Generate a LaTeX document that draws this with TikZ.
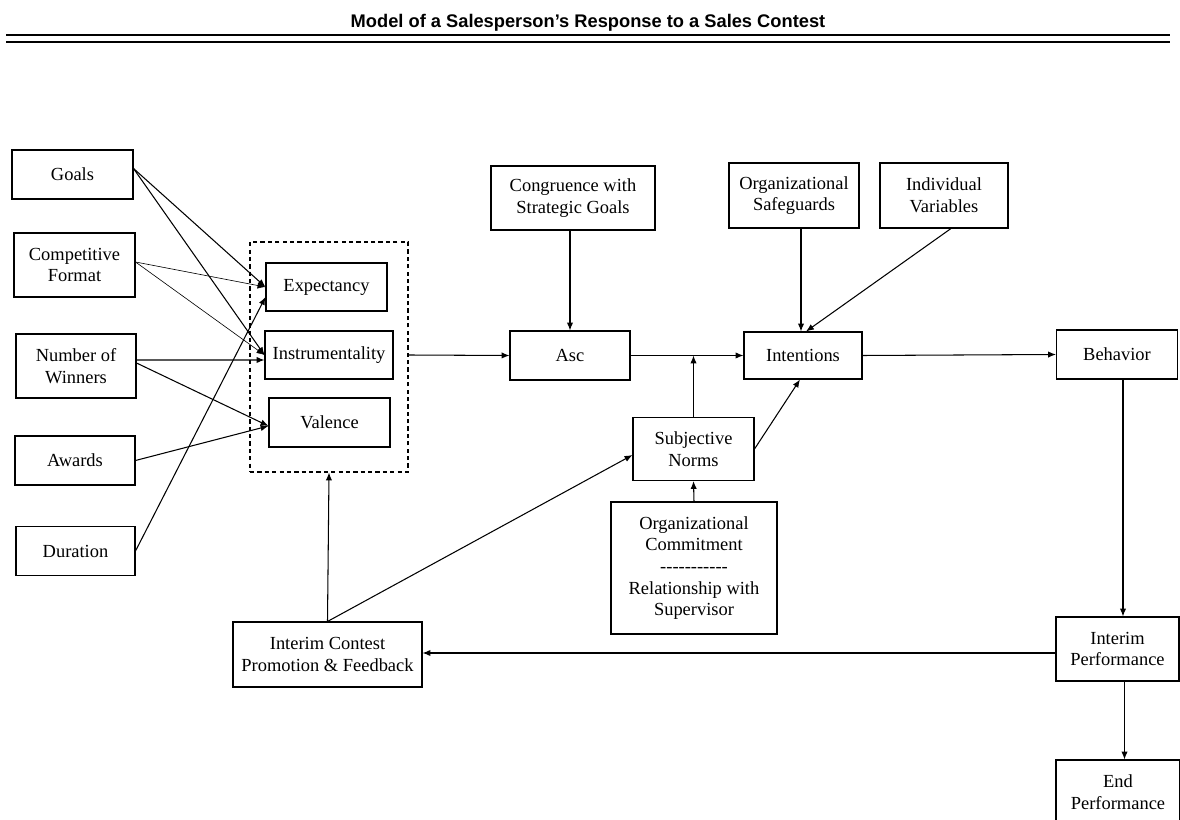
\documentclass[tikz,border=0pt]{standalone}
\usepackage{fontspec}
\newfontfamily\boxfont{Liberation Serif}
\newfontfamily\titlefont{Liberation Sans}
\usetikzlibrary{arrows.meta}

\begin{document}
\begin{tikzpicture}[x=0.02cm, y=-0.02cm,
  box/.style = {rectangle, draw, line width=.6pt, align=center, inner sep=0pt, font=\boxfont\fontsize{10.5}{12.3}\selectfont},
  group/.style = {rectangle, draw, line width=.6pt, dash pattern=on 2.4pt off 1.8pt, inner sep=0pt},
  arr/.style = {-{Latex[length=4.5pt,width=3.6pt]}, line width=.6pt},
  thinarr/.style = {arr, line width=.35pt},]

\useasboundingbox (0,0) rectangle (1180,820);

\node[font=\titlefont\bfseries\fontsize{10.4}{12}\selectfont] (title) at (588,23) {Model of a Salesperson’s Response to a Sales Contest};
\draw[line width=1.1pt] (6,35) -- (1170,35);
\draw[line width=.8pt] (6,42) -- (1170,42);

\node[group, minimum width=3.16cm, minimum height=4.6cm] (motiv) at (329,357) {};

\node[box, minimum width=2.42cm, minimum height=.98cm] (goals) at (72.5,174.5) {Goals};
\node[box, minimum width=2.42cm, minimum height=1.28cm] (compfmt) at (74.5,265) {Competitive\\Format};
\node[box, minimum width=2.4cm, minimum height=1.28cm] (winners) at (76,366) {Number of\\Winners};
\node[box, minimum width=2.4cm, minimum height=.98cm] (awards) at (75,460.5) {Awards};
\node[box, minimum width=2.38cm, minimum height=.98cm] (duration) at (75.5,551) {Duration};

\node[box, minimum width=2.42cm, minimum height=.96cm] (expect) at (326.5,287) {Expectancy};
\node[box, minimum width=2.56cm, minimum height=.96cm] (instr) at (329,355) {Instrumentality};
\node[box, minimum width=2.42cm, minimum height=.98cm] (valence) at (329.5,422.5) {Valence};

\node[box, minimum width=3.28cm, minimum height=1.28cm] (congr) at (573,198) {Congruence with\\Strategic Goals};
\node[box, minimum width=2.4cm, minimum height=.98cm] (asc) at (570,355.5) {Asc};

\node[box, minimum width=2.6cm, minimum height=1.3cm] (safeg) at (794,195.5) {Organizational\\Safeguards};
\node[box, minimum width=2.56cm, minimum height=1.3cm] (indiv) at (944,195.5) {Individual\\Variables};
\node[box, minimum width=2.36cm, minimum height=.94cm] (intent) at (803,355.5) {Intentions};

\node[box, minimum width=2.42cm, minimum height=1.26cm] (subj) at (693.5,449) {Subjective\\Norms};
\node[box, minimum width=3.32cm, minimum height=2.64cm] (orgcom) at (694,568) {Organizational\\Commitment\\-----------\\Relationship with\\Supervisor};

\node[box, minimum width=3.78cm, minimum height=1.3cm] (icpf) at (327.5,654.5) {Interim Contest\\Promotion \& Feedback};

\node[box, minimum width=2.42cm, minimum height=.98cm] (behav) at (1117,354.5) {Behavior};
\node[box, minimum width=2.46cm, minimum height=1.28cm] (iperf) at (1117.5,649) {Interim\\Performance};
\node[box, minimum width=2.48cm, minimum height=1.28cm] (eperf) at (1118,792) {End\\Performance};

\draw[arr] ([yshift=.12cm]goals.east) -- (expect.west);
\draw[arr] ([yshift=.12cm]goals.east) -- (instr.west);
\draw[thinarr] ([yshift=.06cm]compfmt.east) -- (expect.west);
\draw[thinarr] ([yshift=.06cm]compfmt.east) -- (instr.west);
\draw[arr] ([yshift=.12cm]winners.east) -- ([yshift=-.1cm]instr.west);
\draw[arr] ([yshift=.06cm]winners.east) -- ([yshift=-.07cm]valence.west);
\draw[arr] (awards.east) -- ([yshift=-.07cm]valence.west);
\draw[arr] (duration.east) -- ([yshift=-.2cm]expect.west);

\draw[arr] (instr.east -| motiv.east) -- (asc.west);
\draw[arr] (asc.north |- congr.south) -- (asc.north);
\draw[arr] (asc.east) -- (intent.west);
\draw[arr] (subj.north) -- (subj.north |- asc.east);
\draw[arr] ([xshift=-.04cm]intent.north |- safeg.south) -- ([xshift=-.04cm]intent.north);
\draw[arr] ([xshift=.14cm]indiv.south) -- ([xshift=.06cm]intent.north);
\draw[arr] (subj.east) -- ([xshift=-.06cm]intent.south);
\draw[arr] (orgcom.north) -- (subj.south);

\draw[arr] (icpf.north) -- (motiv.south);
\draw[arr] (icpf.north) -- ([yshift=-.12cm]subj.west);

\draw[arr] (intent.east) -- (behav.west);
\draw[arr] ([xshift=.12cm]behav.south) -- ([xshift=.12cm]behav.south |- iperf.north);
\draw[arr] ([yshift=-.08cm]iperf.west) -- ([yshift=-.08cm]iperf.west -| icpf.east);
\draw[arr] ([xshift=.14cm]iperf.south) -- ([xshift=.14cm]iperf.south |- eperf.north);

\end{tikzpicture}
\end{document}
